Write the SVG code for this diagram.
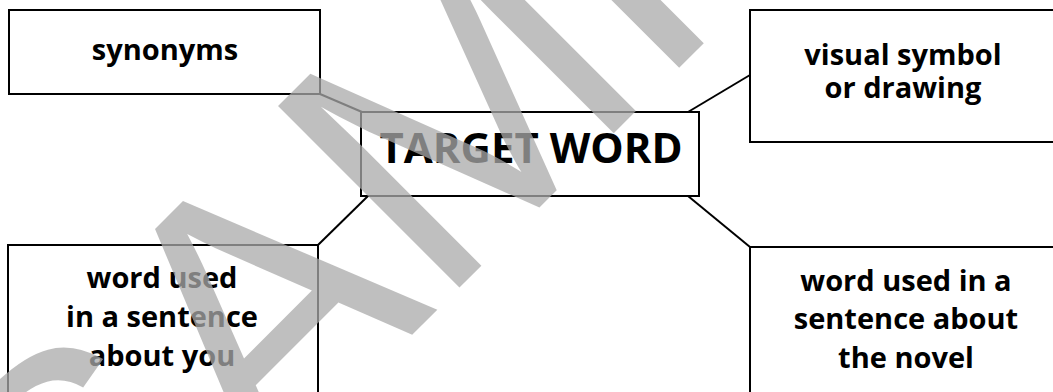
<svg xmlns="http://www.w3.org/2000/svg" width="1053" height="392" viewBox="0 0 1053 392">
<style>
.box{fill:#fff;stroke:#000;stroke-width:2}
.lbl{font-family:"Open Sans","Noto Sans",sans-serif;font-weight:bold;font-size:29px;fill:#000;text-anchor:middle}
.title{font-size:42px}
.conn{stroke:#000;stroke-width:2;fill:none}
.wm{font-family:"Liberation Sans",Arial,sans-serif;font-size:373px;fill:#aaaaaa;fill-opacity:0.75}
</style>
<rect width="1053" height="392" fill="#fff"/>
<g id="connectors">
<line class="conn" x1="320" y1="94" x2="362" y2="112"/>
<line class="conn" x1="688" y1="112" x2="750" y2="75"/>
<line class="conn" x1="368" y1="196" x2="318" y2="245"/>
<line class="conn" x1="688" y1="196" x2="750" y2="247"/>
</g>
<g id="synonyms">
<rect class="box" x="9" y="10" width="311" height="84"/>
<text class="lbl" x="165" y="60">synonyms</text>
</g>
<g id="visual">
<rect class="box" x="750" y="10" width="320" height="132"/>
<text class="lbl" x="903" y="65">visual symbol</text>
<text class="lbl" x="903" y="98">or drawing</text>
</g>
<g id="target">
<rect class="box" x="361" y="112" width="338" height="84"/>
<text class="lbl title" x="531" y="163">TARGET WORD</text>
</g>
<g id="sentence-you">
<rect class="box" x="8" y="245" width="310" height="170"/>
<text class="lbl" x="162" y="288">word used</text>
<text class="lbl" x="162" y="327">in a sentence</text>
<text class="lbl" x="162" y="366">about you</text>
</g>
<g id="sentence-novel">
<rect class="box" x="750" y="247" width="320" height="170"/>
<text class="lbl" x="906" y="291">word used in a</text>
<text class="lbl" x="906" y="329">sentence about</text>
<text class="lbl" x="906" y="368">the novel</text>
</g>
<text class="wm" transform="translate(86,661) rotate(-45)">SAMPLE</text>
</svg>
